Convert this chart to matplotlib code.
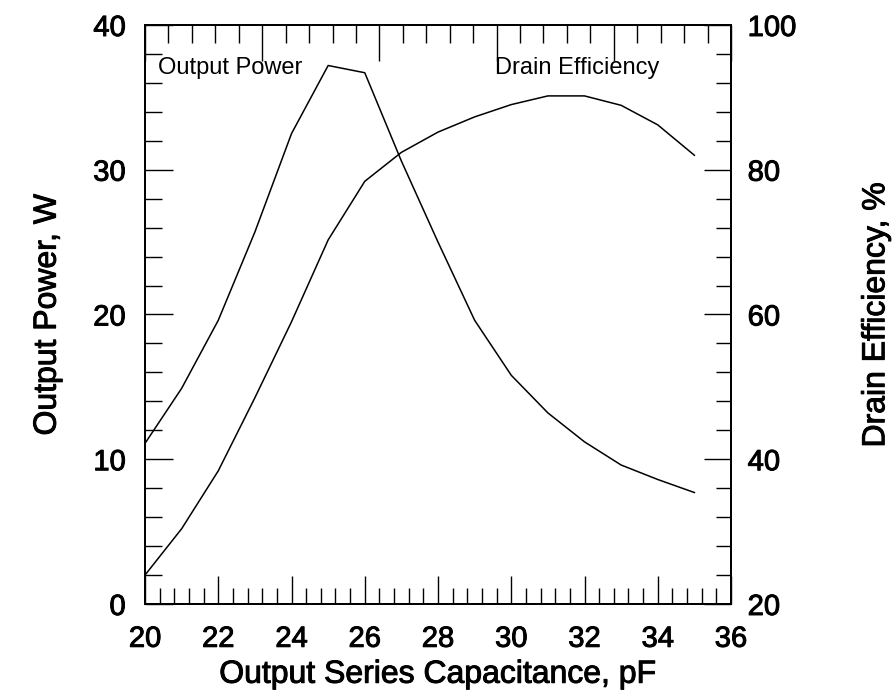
import matplotlib
matplotlib.use('Agg')
import matplotlib.pyplot as plt
import matplotlib.patheffects as pe
from matplotlib.ticker import MultipleLocator, NullFormatter

# Data
capacitance = [20, 21, 22, 23, 24, 25, 26, 27, 28, 29, 30, 31, 32, 33, 34, 35]
output_power = [11.1, 14.9, 19.6, 25.7, 32.5, 37.2, 36.7, 30.6, 25.0, 19.6,
                15.8, 13.2, 11.2, 9.6, 8.6, 7.7]
drain_efficiency = [24.0, 30.4, 38.4, 48.5, 59.0, 70.3, 78.4, 82.4, 85.2, 87.3,
                    89.0, 90.2, 90.2, 88.9, 86.2, 82.0]

x_ticks = [20, 22, 24, 26, 28, 30, 32, 34, 36]
power_ticks = [0, 10, 20, 30, 40]
eff_ticks = [20, 40, 60, 80, 100]

plt.rcParams['font.family'] = ['Liberation Sans', 'DejaVu Sans']

fig = plt.figure(figsize=(8.92, 6.92), dpi=100)
ax = fig.add_axes([0.1626, 0.1272, 0.6569, 0.8367])
ax_r = ax.twinx()
ax_t = ax.twiny()

line_kw = dict(color='black', linewidth=1.1)
ax.plot(capacitance, output_power, **line_kw)
ax_r.plot(capacitance, drain_efficiency, **line_kw)

# Bottom / left axis
ax.set_xlim(20, 36)
ax.set_ylim(0, 40)
ax.set_xticks(x_ticks)
ax.set_yticks(power_ticks)
ax.xaxis.set_minor_locator(MultipleLocator(0.4))
ax.yaxis.set_minor_locator(MultipleLocator(2))
ax.tick_params(axis='both', which='both', direction='in', labelsize=21,
               top=False, right=False, width=1.0)
ax.tick_params(axis='x', which='major', length=20, pad=15)
ax.tick_params(axis='x', which='minor', length=11.5)
ax.tick_params(axis='y', which='major', length=20, pad=14)
ax.tick_params(axis='y', which='minor', length=12)
ax.set_xlabel('Output Series Capacitance, pF', fontsize=23, labelpad=5)
ax.set_ylabel('Output Power, W', fontsize=23, labelpad=22)

# Right axis
ax_r.set_ylim(20, 100)
ax_r.set_yticks(eff_ticks)
ax_r.yaxis.set_minor_locator(MultipleLocator(4))
ax_r.tick_params(axis='y', which='both', direction='in', labelsize=21, width=1.0)
ax_r.tick_params(axis='y', which='major', length=19.5, pad=12)
ax_r.tick_params(axis='y', which='minor', length=11)
ax_r.set_ylabel('Drain Efficiency, %', fontsize=23, labelpad=47)

# Top axis: its own unlabeled tick scale
ax_t.set_xlim(0, 25)
ax_t.xaxis.set_major_locator(MultipleLocator(5))
ax_t.xaxis.set_minor_locator(MultipleLocator(1))
ax_t.xaxis.set_major_formatter(NullFormatter())
ax_t.tick_params(axis='x', which='both', direction='in', width=1.0)
ax_t.tick_params(axis='x', which='major', length=26)
ax_t.tick_params(axis='x', which='minor', length=13)

for a in (ax, ax_r, ax_t):
    for s in a.spines.values():
        s.set_linewidth(1.2)

# slightly heavier text, like the scanned original
heavy = [pe.withStroke(linewidth=0.7, foreground='black')]
labels = ax.get_xticklabels() + ax.get_yticklabels() + ax_r.get_yticklabels()
labels += [ax.xaxis.label, ax.yaxis.label, ax_r.yaxis.label]
for t in labels:
    t.set_path_effects(heavy)

ax.text(20.35, 37.0, 'Output Power', fontsize=17, va='center', ha='left')
ax.text(29.55, 37.0, 'Drain Efficiency', fontsize=17, va='center', ha='left')

fig.savefig('out.png', dpi=100)
